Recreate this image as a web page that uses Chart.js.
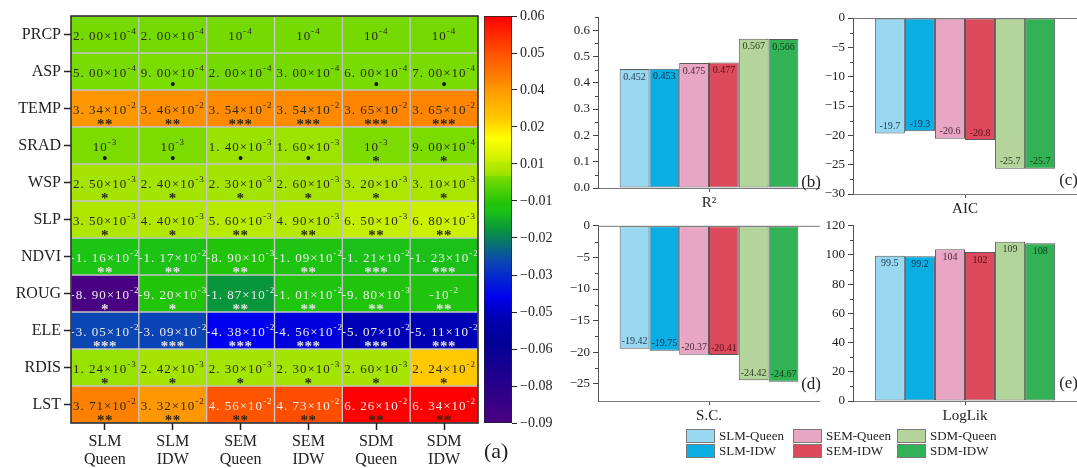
<!DOCTYPE html>
<html>
<head>
<meta charset="utf-8">
<script src="https://cdn.jsdelivr.net/npm/chart.js@4.4.1/dist/chart.umd.min.js"></script>
<style>
  html, body { margin: 0; padding: 0; background: #fff; }
  body { width: 1077px; height: 468px; position: relative; overflow: hidden;
         font-family: 'Liberation Serif', 'Times New Roman', serif; color: #222; }
  canvas { position: absolute; }
  .tag { position: absolute; font-size: 22px; }
  .item { position: absolute; font-size: 13px; line-height: 14px; height: 14px; display: flex; align-items: center; }
  .swatch { width: 27px; height: 12px; border: 1px solid #7a7a7a; margin-right: 4px; }
</style>
</head>
<body>
<canvas id="heat" width="480" height="468" style="left:0;top:0"></canvas>
<canvas id="cbar" width="75" height="468" style="left:480px;top:0"></canvas>
<canvas id="r2" width="265" height="215" style="left:555px;top:0"></canvas>
<canvas id="aic" width="257" height="215" style="left:820px;top:0"></canvas>
<canvas id="sc" width="265" height="212" style="left:555px;top:215px"></canvas>
<canvas id="ll" width="257" height="212" style="left:820px;top:215px"></canvas>
<div class="tag" style="left:484px;top:438px">(a)</div>
<div id="legend"></div>

<script>
// heatmap: rows = variables, columns = model / weight combos
const rowNames = ['PRCP', 'ASP', 'TEMP', 'SRAD', 'WSP', 'SLP', 'NDVI', 'ROUG', 'ELE', 'RDIS', 'LST'];
const colNames = [['SLM', 'Queen'], ['SLM', 'IDW'], ['SEM', 'Queen'], ['SEM', 'IDW'], ['SDM', 'Queen'], ['SDM', 'IDW']];

const coefPRCP = [2e-4, 2e-4, 1e-4, 1e-4, 1e-4, 1e-4];
const coefASP  = [5e-4, 9e-4, 2e-4, 3e-4, 6e-4, 7e-4];
const coefTEMP = [3.34e-2, 3.46e-2, 3.54e-2, 3.54e-2, 3.65e-2, 3.65e-2];
const coefSRAD = [1e-3, 1e-3, 1.4e-3, 1.6e-3, 1e-3, 9e-4];
const coefWSP  = [2.5e-3, 2.4e-3, 2.3e-3, 2.6e-3, 3.2e-3, 3.1e-3];
const coefSLP  = [3.5e-3, 4.4e-3, 5.6e-3, 4.9e-3, 6.5e-3, 6.8e-3];
const coefNDVI = [-1.16e-2, -1.17e-2, -8.9e-3, -1.09e-2, -1.21e-2, -1.23e-2];
const coefROUG = [-8.9e-2, -9.2e-3, -1.87e-2, -1.01e-2, -9.8e-3, -1e-2];
const coefELE  = [-3.05e-2, -3.09e-2, -4.38e-2, -4.56e-2, -5.07e-2, -5.11e-2];
const coefRDIS = [1.24e-3, 2.42e-3, 2.3e-3, 2.3e-3, 2.6e-3, 2.24e-2];
const coefLST  = [3.71e-2, 3.32e-2, 4.56e-2, 4.73e-2, 6.26e-2, 6.34e-2];

const sigPRCP = ['', '', '', '', '', ''];
const sigASP  = ['', '•', '', '', '•', '•'];
const sigTEMP = ['**', '**', '***', '***', '***', '***'];
const sigSRAD = ['•', '•', '•', '•', '*', '*'];
const sigWSP  = ['*', '*', '*', '*', '*', '*'];
const sigSLP  = ['*', '*', '**', '**', '**', '**'];
const sigNDVI = ['**', '**', '**', '**', '***', '***'];
const sigROUG = ['*', '*', '**', '**', '**', '**'];
const sigELE  = ['***', '***', '***', '***', '***', '***'];
const sigRDIS = ['*', '*', '*', '*', '*', '*'];
const sigLST  = ['**', '**', '**', '**', '**', '**'];

const cbTickLabels = ['0.06', '0.05', '0.04', '0.02', '0.01', '\u22120.01', '\u22120.02',
    '\u22120.03', '\u22120.05', '\u22120.06', '\u22120.08', '\u22120.09'];

// model comparison panels
const modelNames = ['SLM-Queen', 'SLM-IDW', 'SEM-Queen', 'SEM-IDW', 'SDM-Queen', 'SDM-IDW'];
const r2Values     = [0.452, 0.453, 0.475, 0.477, 0.567, 0.566];
const aicValues    = [-19.7, -19.3, -20.6, -20.8, -25.7, -25.7];
const scValues     = [-19.42, -19.75, -20.37, -20.41, -24.42, -24.67];
const loglikValues = [99.5, 99.2, 104, 102, 109, 108];

const coefRows = [coefPRCP, coefASP, coefTEMP, coefSRAD, coefWSP, coefSLP, coefNDVI, coefROUG, coefELE, coefRDIS, coefLST];
const sigRows = [sigPRCP, sigASP, sigTEMP, sigSRAD, sigWSP, sigSLP, sigNDVI, sigROUG, sigELE, sigRDIS, sigLST];

const FONT = "'Liberation Serif', 'Times New Roman', serif";
Chart.defaults.font.family = FONT;
Chart.defaults.color = '#222';

const modelColors = ['#9ad7f1', '#0aaee3', '#e9a5c4', '#dc4a5b', '#b3d59c', '#33b156'];
const labelColors = ['#1f3b4d', '#0c2f4a', '#4d2a3a', '#5c0d17', '#2f3f22', '#0d3a17'];

// colormap
const colorStops = [
    [-0.09, '#4b0082'], [-0.06, '#000096'], [-0.051, '#0000b4'], [-0.0456, '#0000dc'],
    [-0.0438, '#0000f0'], [-0.0305, '#0a46b4'], [-0.0187, '#08963c'], [-0.0116, '#1cc414'],
    [-0.0089, '#22c40a'], [0.0011, '#7ddc00'], [0.0012, '#98e200'], [0.0035, '#aee600'],
    [0.0056, '#b8ea00'], [0.0068, '#cbf000'], [0.015, '#ffff00'], [0.0224, '#ffc800'],
    [0.0334, '#ff9600'], [0.0371, '#ff8000'], [0.0456, '#ff5500'], [0.0626, '#ff0000'],
];

function hexRgb(h) {
    return [1, 3, 5].map((i) => parseInt(h.slice(i, i + 2), 16));
}

function cmap(v) {
    if (v <= colorStops[0][0]) return colorStops[0][1];
    for (let i = 0; i < colorStops.length - 1; i++) {
        const [v0, c0] = colorStops[i];
        const [v1, c1] = colorStops[i + 1];
        if (v <= v1) {
            const t = (v - v0) / (v1 - v0);
            const a = hexRgb(c0), b = hexRgb(c1);
            return `rgb(${a.map((x, k) => Math.round(x + (b[k] - x) * t)).join(',')})`;
        }
    }
    return colorStops[colorStops.length - 1][1];
}

function sciParts(v) {
    const e = Math.floor(Math.log10(Math.abs(v)) + 1e-9);
    const m = (v / Math.pow(10, e)).toFixed(2);
    let main;
    if (m === '1.00') main = '10';
    else if (m === '-1.00') main = '-10';
    else main = m.replace('.', '. ') + '\u00d710';
    return [main, String(e)];
}

function drawCentered(ctx, text, x, y) {
    const m = ctx.measureText(text);
    const asc = m.actualBoundingBoxAscent, desc = m.actualBoundingBoxDescent;
    ctx.fillText(text, x - m.width / 2, y + (asc - desc) / 2);
}

const cellText = {
    id: 'cellText',
    afterDatasetsDraw(chart) {
        const ctx = chart.ctx;
        ctx.save();
        ctx.textBaseline = 'alphabetic';
        ctx.textAlign = 'left';
        chart.data.datasets.forEach((ds, ri) => {
            chart.getDatasetMeta(ri).data.forEach((el, ci) => {
                const v = coefRows[ri][ci];
                const cx = el.x, cy = (el.y + el.base) / 2;
                const light = v < 0 || v > 0.04;
                const [main, sup] = sciParts(v);
                ctx.letterSpacing = '1px';
                ctx.font = `13px ${FONT}`;
                const w1 = ctx.measureText(main).width;
                ctx.font = `9px ${FONT}`;
                const w2 = ctx.measureText(sup).width;
                const x0 = cx - (w1 + w2) / 2;
                ctx.fillStyle = light ? '#ececec' : '#2a2a18';
                ctx.font = `13px ${FONT}`;
                ctx.fillText(main, x0, cy + 5);
                ctx.font = `9px ${FONT}`;
                ctx.fillText(sup, x0 + w1, cy - 1);
                ctx.letterSpacing = '0px';
                const s = sigRows[ri][ci];
                if (s) {
                    ctx.fillStyle = v < 0 ? '#e4e4e4' : '#2a2a18';
                    if (s === '•') {
                        ctx.fillStyle = '#111';
                        ctx.font = `16px ${FONT}`;
                        drawCentered(ctx, s, cx, cy + 13);
                    } else {
                        ctx.font = `bold 15px ${FONT}`;
                        ctx.letterSpacing = '0.5px';
                        drawCentered(ctx, s, cx, cy + 13);
                        ctx.letterSpacing = '0px';
                    }
                }
            });
        });
        ctx.restore();
    },
    afterDraw(chart) {
        const { ctx, chartArea: a } = chart;
        ctx.save();
        ctx.strokeStyle = '#222';
        ctx.lineWidth = 1.5;
        ctx.strokeRect(a.left, a.top, a.right - a.left, a.bottom - a.top);
        ctx.restore();
    },
};

new Chart(document.getElementById('heat'), {
    type: 'bar',
    data: {
        labels: colNames,
        datasets: rowNames.map((name, i) => ({
            label: name,
            data: colNames.map(() => [i, i + 1]),
            backgroundColor: coefRows[i].map(cmap),
            borderColor: '#c4c4c4',
            borderWidth: 1,
            borderSkipped: false,
            barPercentage: 1,
            categoryPercentage: 1,
            grouped: false,
        })),
    },
    options: {
        responsive: false,
        animation: false,
        layout: { padding: { top: 16, right: 2 } },
        plugins: { legend: { display: false }, tooltip: { enabled: false } },
        scales: {
            x: {
                afterFit: (s) => { s.height = 45; },
                grid: { offset: false, drawOnChartArea: false, tickLength: 7, tickColor: '#222', tickWidth: 1.5 },
                border: { display: false },
                ticks: { font: { size: 16, lineHeight: 1.12 }, color: '#222', padding: 3, maxRotation: 0 },
            },
            y: {
                min: 0,
                max: rowNames.length,
                reverse: true,
                afterFit: (s) => { s.width = 71; },
                afterBuildTicks: (s) => { s.ticks = rowNames.map((_, i) => ({ value: i + 0.5 })); },
                grid: { drawOnChartArea: false, tickLength: 7, tickColor: '#222', tickWidth: 1.5 },
                border: { display: false },
                ticks: { callback: (v) => rowNames[Math.floor(v)], font: { size: 16 }, color: '#222', padding: 3 },
            },
        },
    },
    plugins: [cellText],
});

// colorbar
const cbMin = -0.09, cbMax = 0.06;
new Chart(document.getElementById('cbar'), {
    type: 'bar',
    data: {
        labels: [''],
        datasets: [{
            data: [[cbMin, cbMax]],
            backgroundColor: (c) => {
                const ch = c.chart;
                if (!ch.chartArea) return '#888';
                const y = ch.scales.y;
                const g = ch.ctx.createLinearGradient(0, y.getPixelForValue(cbMin), 0, y.getPixelForValue(cbMax));
                colorStops.forEach(([v, col]) => {
                    g.addColorStop(Math.min(1, Math.max(0, (v - cbMin) / (cbMax - cbMin))), col);
                });
                return g;
            },
            borderColor: '#222',
            borderWidth: 1,
            borderSkipped: false,
            barPercentage: 1,
            categoryPercentage: 1,
        }],
    },
    options: {
        responsive: false,
        animation: false,
        layout: { padding: { top: 16, left: 4, bottom: 45 } },
        plugins: { legend: { display: false }, tooltip: { enabled: false } },
        scales: {
            x: { display: false },
            y: {
                position: 'right',
                min: cbMin,
                max: cbMax,
                afterFit: (s) => { s.width = 43; },
                afterBuildTicks: (s) => {
                    s.ticks = cbTickLabels.map((_, i) => ({ value: cbMax - i * (cbMax - cbMin) / (cbTickLabels.length - 1) }));
                },
                grid: { drawOnChartArea: false, tickLength: 5, tickColor: '#222' },
                border: { display: false },
                ticks: { callback: (v, i) => cbTickLabels[i], font: { size: 14 }, color: '#222', padding: 3 },
            },
        },
    },
});

// value labels, minor ticks, zero line and panel tag for the bar panels
const panel = {
    id: 'panel',
    afterDatasetsDraw(chart, args, o) {
        const { ctx, chartArea: a } = chart;
        const y = chart.scales.y;
        ctx.save();
        if (o.max === 0) {
            ctx.strokeStyle = '#777';
            ctx.lineWidth = 1;
            ctx.beginPath();
            ctx.moveTo(a.left, y.getPixelForValue(0) + 0.5);
            ctx.lineTo(a.right, y.getPixelForValue(0) + 0.5);
            ctx.stroke();
        }
        ctx.font = `10px ${FONT}`;
        ctx.textAlign = 'center';
        chart.data.datasets.forEach((ds, i) => {
            const el = chart.getDatasetMeta(i).data[0];
            const v = ds.data[0];
            ctx.fillStyle = labelColors[i];
            if (v >= 0) {
                ctx.textBaseline = 'top';
                ctx.fillText(o.fmt(v), el.x, el.y + 3);
            } else {
                ctx.textBaseline = 'bottom';
                ctx.fillText(o.fmt(v), el.x, el.y - 2);
            }
        });
        // minor ticks
        ctx.strokeStyle = '#444';
        ctx.lineWidth = 1;
        for (let v = o.from; v <= o.max + 1e-9; v += o.minor) {
            const onMajor = Math.abs(v / o.step - Math.round(v / o.step)) < 1e-6;
            if (onMajor) continue;
            const p = Math.round(y.getPixelForValue(v)) + 0.5;
            ctx.beginPath();
            ctx.moveTo(a.left, p);
            ctx.lineTo(a.left - 3, p);
            ctx.stroke();
        }
        ctx.font = `17px ${FONT}`;
        ctx.fillStyle = '#222';
        ctx.textAlign = 'right';
        ctx.textBaseline = 'middle';
        ctx.fillText(o.tag, a.right + 1, a.bottom - o.tagDy);
        ctx.restore();
    },
};

function tickRange(from, to, step) {
    const out = [];
    for (let v = from; v <= to + 1e-9; v += step) out.push(Math.round(v / step) * step);
    return out;
}

function barPanel(id, title, values, o) {
    return new Chart(document.getElementById(id), {
        type: 'bar',
        data: {
            labels: [title],
            datasets: modelNames.map((name, i) => ({
                label: name,
                data: [values[i]],
                backgroundColor: modelColors[i],
                borderColor: '#5a5a5a',
                borderWidth: 1,
                borderSkipped: false,
                barPercentage: 1,
                categoryPercentage: 0.805,
            })),
        },
        options: {
            responsive: false,
            animation: false,
            layout: { padding: { top: o.top, right: 0 } },
            plugins: { legend: { display: false }, tooltip: { enabled: false }, panel: o },
            scales: {
                x: {
                    afterFit: (s) => { s.height = o.xh; },
                    grid: { offset: false, drawOnChartArea: false, tickLength: 4, tickColor: '#555' },
                    border: { color: '#7a7a7a' },
                    ticks: { font: { size: 15 }, color: '#222', padding: 2 },
                },
                y: {
                    min: o.min,
                    max: o.max,
                    afterFit: (s) => { s.width = o.yw; },
                    afterBuildTicks: (s) => { s.ticks = tickRange(o.from, o.to, o.step).map((v) => ({ value: v })); },
                    grid: { drawOnChartArea: false, tickLength: 5, tickColor: '#444' },
                    border: { color: '#555' },
                    ticks: { callback: o.tick, font: { size: 13 }, color: '#222', padding: 3 },
                },
            },
        },
        plugins: [panel],
    });
}

const signed = (v) => (v < 0 ? '\u2212' + Math.abs(v) : String(v));

barPanel('r2', 'R\u00b2', r2Values, {
    top: 17, xh: 27, yw: 43, min: 0, max: 0.65, from: 0, to: 0.6, step: 0.1, minor: 0.05,
    tick: (v) => v.toFixed(1), fmt: (v) => v.toFixed(3), tag: '(b)', tagDy: 5,
});
barPanel('aic', 'AIC', aicValues, {
    top: 18, xh: 21, yw: 33, min: -30, max: 0, from: -30, to: 0, step: 5, minor: 2.5,
    tick: signed, fmt: (v) => v.toFixed(1), tag: '(c)', tagDy: 13,
});
barPanel('sc', 'S.C.', scValues, {
    top: 8, xh: 26, yw: 43, min: -27.7, max: 0, from: -25, to: 0, step: 5, minor: 2.5,
    tick: signed, fmt: (v) => v.toFixed(2), tag: '(d)', tagDy: 16,
});
barPanel('ll', 'LogLik', loglikValues, {
    top: 8, xh: 26, yw: 33, min: 0, max: 120, from: 0, to: 120, step: 20, minor: 10,
    tick: signed, fmt: (v) => String(Number(v.toPrecision(3))), tag: '(e)', tagDy: 17,
});

// shared legend, three columns of two
const legend = document.getElementById('legend');
const legendCols = [686, 793, 897];
const legendRows = [429, 444];
modelNames.forEach((name, i) => {
    const item = document.createElement('div');
    item.className = 'item';
    item.style.left = legendCols[Math.floor(i / 2)] + 'px';
    item.style.top = legendRows[i % 2] + 'px';
    item.innerHTML = `<span class="swatch" style="background:${modelColors[i]}"></span><span>${name}</span>`;
    legend.appendChild(item);
});
</script>
</body>
</html>
